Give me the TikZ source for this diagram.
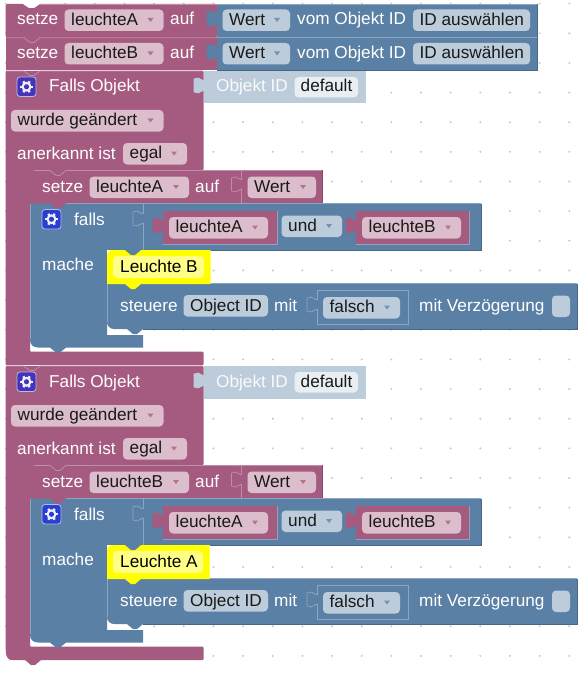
\documentclass[tikz,border=0pt]{standalone}
\usepackage{fontspec}
\setmainfont{Liberation Sans}
\definecolor{pk}{HTML}{A55B80}
\definecolor{pkl}{HTML}{C08CA6}
\definecolor{pkd}{HTML}{844966}
\definecolor{pkf}{HTML}{DBBDCC}
\definecolor{bl}{HTML}{5B80A5}
\definecolor{bll}{HTML}{8CA6C0}
\definecolor{bld}{HTML}{496684}
\definecolor{blf}{HTML}{BDCCDB}
\definecolor{shd}{HTML}{BDCCDB}
\definecolor{shdf}{HTML}{E9EEF3}
\definecolor{yel}{HTML}{FFFF00}
\definecolor{yelf}{HTML}{FFFF88}
\definecolor{icp}{HTML}{4433BB}
\definecolor{icb}{HTML}{2A3FD0}
\tikzset{
  txt/.style={inner sep=0pt,anchor=base west,font=\fontsize{17.2}{20}\selectfont},
  wl/.style={txt,text=white},
  bk/.style={txt,text=black!90},
}
% fields
\newcommand\fld[5]{\fill[#5,rounded corners=4pt] (#1,#3) rectangle (#2,#4);}
\newcommand\arr[3]{\fill[#3] (#1-3,#2-2) -- (#1+3,#2-2) -- (#1,#2+2) -- cycle;}
% name, x1, x2, y1, text
\newcommand\pfield[5]{\fld{#2}{#3}{#4}{#4+21.5}{pkf}
  \arr{#3-13}{#4+10.5}{pk!75!pkf}
  \node[bk] (#1) at (#2+6.5,#4+15.7) {#5};}
\newcommand\bfield[5]{\fld{#2}{#3}{#4}{#4+21.5}{blf}
  \arr{#3-13}{#4+10.5}{bl!75!blf}
  \node[bk] (#1) at (#2+6.5,#4+15.7) {#5};}
\newcommand\tfield[6]{\fld{#2}{#3}{#4}{#4+21.5}{#6}
  \node[bk] (#1) at (#2+6.5,#4+16) {#5};}
% left puzzle tab: x, top, fill, stroke
\newcommand\tabL[4]{\filldraw[fill=#3,draw=#4,line width=.7pt]
  (#1,#2+10) .. controls (#1-3,#2+10) and (#1-3,#2+7) .. (#1-6,#2+7)
  -- (#1-10,#2+8) -- (#1-10,#2+21) -- (#1-6,#2+22)
  .. controls (#1-3,#2+22) and (#1-3,#2+19) .. (#1,#2+19);
  \fill[#3] (#1-.5,#2+10) rectangle (#1+1,#2+19);}
% bottom tab: x, y, colour
\newcommand\nub[3]{\fill[#3] (#1,#2-1) -- (#1,#2) -- (#1+6,#2+5) -- (#1+10,#2+5) -- (#1+16,#2) -- (#1+16,#2-1) -- cycle;}
% top highlight with notch: x0,x1,xn,y,colour
\newcommand\hl[5]{\draw[#5,line width=.8pt] (#1,#4) -- (#3,#4) -- (#3+6,#4+5) -- (#3+10,#4+5) -- (#3+16,#4) -- (#2,#4);}
% gear icon: x,y(top-left),colour
\newcommand\gear[3]{
  \filldraw[fill=#3,draw=white!65!#3,line width=.8pt,rounded corners=3pt] (#1,#2) rectangle (#1+19,#2+19.5);
  \foreach \a in {0,60,120}{\draw[white!92!#3,line width=2.4pt] ({#1+9.5+6.3*cos(\a)},{#2+9.75+6.3*sin(\a)}) -- ({#1+9.5-6.3*cos(\a)},{#2+9.75-6.3*sin(\a)});}
  \fill[white!92!#3] (#1+9.5,#2+9.75) circle (5);
  \fill[#3] (#1+9.5,#2+9.75) circle (2.6);}
% one "Falls Objekt" group: suffix, var, yellow text, yellow right
\newcommand\falls[4]{
  % pink C block
  \fill[pk,rounded corners=1pt] (5.5,71) -- (203.5,71) -- (203.5,170) -- (30,170) -- (30,351.5) -- (203.5,351.5) -- (203.5,365) -- (5.5,365) -- cycle;
  % shadow Objekt ID
  \fill[shd] (203.5,71) rectangle (366,103.5);
  \tabL{204}{71}{shd}{shd}
  \node[wl,text=white!90!shd] (oid#1) at (216,92) {Objekt ID};
  \fld{294.5}{358}{77}{97.5}{shdf}
  \node[bk] (def#1) at (300.5,92) {default};
  \gear{17}{77}{icp}
  \node[wl] (fo#1) at (49,92) {Falls Objekt};
  \pfield{wg#1}{11}{163.5}{110}{wurde geändert}
  \node[wl] (an#1) at (17,159) {anerkannt ist};
  \pfield{eg#1}{123}{187}{143}{egal}
  % nested setze
  \fill[pk] (30,170) rectangle (322.5,203.5);
  \hl{34}{322}{50}{170.4}{pkl}
  \draw[pkd,line width=.8pt] (322.8,170) -- (322.8,203.5);
  \draw[pkl,line width=.7pt] (241.5,171) -- (241.5,203);
  \tabL{241.5}{170}{pk}{pkl}
  \node[wl] (se#1) at (42,192) {setze};
  \pfield{sv#1}{89.5}{189}{176.5}{#2}
  \node[wl] (au#1) at (195,192) {auf};
  \pfield{sw#1}{247.5}{316}{176.5}{Wert}
  % falls block
  \fill[bl] (30,203.5) -- (481,203.5) -- (481,250) -- (107,250) -- (107,335) -- (143,335) -- (143,347.5) -- (38,347.5) .. controls (33,347.5) and (30,344.5) .. (30,339.5) -- cycle;
  \draw[bll,line width=.8pt] (30,204) -- (30,339);
  \draw[bld,line width=.8pt] (481.3,204) -- (481.3,250.3) -- (210,250.3);
  \draw[bll,line width=.8pt] (50,203.7) -- (481,203.7);
  \draw[bll,line width=.7pt] (143,204) -- (143,250);
  \tabL{143}{204}{bl}{bll}
  \nub{50}{203.5}{pk}
  \nub{50}{347.5}{bl}
  \gear{42}{209.5}{icb}
  \node[wl] (fa#1) at (74,225) {falls};
  \node[wl] (ma#1) at (42,270) {mache};
  % value blocks
  \fill[pk] (163,211) rectangle (277,244);
  \draw[bll,line width=.7pt] (163,244) -- (277,244) -- (277,211);
  \tabL{163}{211}{pk}{pk}
  \pfield{va#1}{169}{268}{217}{leuchteA}
  \bfield{un#1}{281.5}{342}{215.5}{und}
  \fill[pk] (356,211) rectangle (469.5,244);
  \draw[bll,line width=.7pt] (356,244) -- (469.5,244) -- (469.5,211);
  \tabL{356}{211}{pk}{pk}
  \pfield{vb#1}{362}{461}{217}{leuchteB}
  % steuere
  \fill[white] (107.5,322) rectangle (143,335);
  \nub{127}{329}{bl}
  \fill[bl] (107,284) -- (577,284) -- (577,329) -- (114,329) .. controls (110,329) and (107,326) .. (107,322) -- cycle;
  \draw[bll,line width=.8pt] (107.4,284) -- (107.4,322);
  \draw[bll,line width=.8pt] (140,283.8) -- (577,283.8);
  \draw[bld,line width=.8pt] (577.3,284) -- (577.3,329.3) -- (143,329.3);
  \node[wl] (st#1) at (120,311) {steuere};
  \tfield{ob#1}{183.5}{268}{295}{Object ID}{blf}
  \node[wl] (mi#1) at (274,311) {mit};
  \draw[bll,line width=.7pt] (317,290) rectangle (408,324);
  \tabL{317}{290}{bl}{bll}
  \bfield{fs#1}{323}{400}{297}{falsch}
  \node[wl] (mv#1) at (419,311) {mit Verzögerung};
  \fld{552}{570}{295.5}{317}{blf}
  % yellow comment block
  \fill[white] (107,250) rectangle (114,256);
  \fill[yel] (113,250) -- (#4,250) -- (#4,284) -- (107,284) -- (107,256) .. controls (107,252) and (109,250) .. (113,250) -- cycle;
  \nub{125}{250}{bl}
  \nub{125}{284}{yel}
  \fld{113}{#4-6.5}{256}{278}{yelf}
  \node[bk,text=black] (ye#1) at (120,272) {#3};
}
\begin{document}
\begin{tikzpicture}[x=1pt,y=-1pt]
\useasboundingbox (0,0) rectangle (587,674);
\fill[white] (0,0) rectangle (587,674);
% dots
\foreach \i in {0,...,19}{\foreach \k in {0,...,22}{
  \fill[black!22] ({5.9+29.65*\i},{3.6+29.65*\k}) circle (1.1);}}
% first two setze blocks
\fill[pk,rounded corners=2pt] (5.5,4) -- (217,4) -- (217,37.5) -- (5.5,37.5) -- cycle;
\fill[bl] (217,4) rectangle (537,37.5);
\fill[pk] (5.5,37.5) rectangle (217,70.5);
\fill[bl] (217,37.5) rectangle (537,70.5);
% top notch
\fill[white] (23,3) -- (23,4) -- (29,8) -- (34,8) -- (40,4) -- (40,3) -- cycle;
\draw[bll,line width=.8pt] (217,4.2) -- (537,4.2);
\draw[bll,line width=.8pt] (217,37.8) -- (537,37.8);
\draw[pkl,line width=.8pt] (40,4.2) -- (217,4.2);
\draw[pkl,line width=.8pt] (6,37.8) -- (24,37.8) -- (30,42.5) -- (34,42.5) -- (40,37.8) -- (217,37.8);
\draw[bld,line width=.8pt] (537.2,4) -- (537.2,70.7) -- (217,70.7);
\tabL{217}{4}{bl}{bl}
\tabL{217}{37.5}{bl}{bl}
\node[wl] (s1) at (17,25) {setze};
\pfield{v1}{64.5}{163.5}{9.5}{leuchteA}
\node[wl] (a1) at (170,25) {auf};
\bfield{w1}{222.5}{290}{9.5}{Wert}
\node[wl] (o1) at (297,25) {vom Objekt ID};
\tfield{i1}{413}{530}{9.5}{ID auswählen}{blf}
\node[wl] (s2) at (17,59) {setze};
\pfield{v2}{64.5}{163.5}{43}{leuchteB}
\node[wl] (a2) at (170,59) {auf};
\bfield{w2}{222.5}{290}{43}{Wert}
\node[wl] (o2) at (297,59) {vom Objekt ID};
\tfield{i2}{413}{530}{43}{ID auswählen}{blf}
% groups
\falls{x}{leuchteA}{Leuchte B}{210.5}
\draw[pkl,line width=.8pt] (6,71) -- (24,71) -- (30,75.5) -- (34,75.5) -- (40,71) -- (203,71);
\begin{scope}[yshift=-295pt]
\falls{y}{leuchteB}{Leuchte A}{209.5}
\draw[pkl,line width=.8pt] (6,71) -- (24,71) -- (30,75.5) -- (34,75.5) -- (40,71) -- (203,71);
\nub{25}{365}{pk}
\fill[white] (5,355) -- (5,365.5) -- (13,365.5) .. controls (8,365.5) and (5.5,362) .. (5.5,355) -- cycle;
\end{scope}
\end{tikzpicture}
\end{document}
